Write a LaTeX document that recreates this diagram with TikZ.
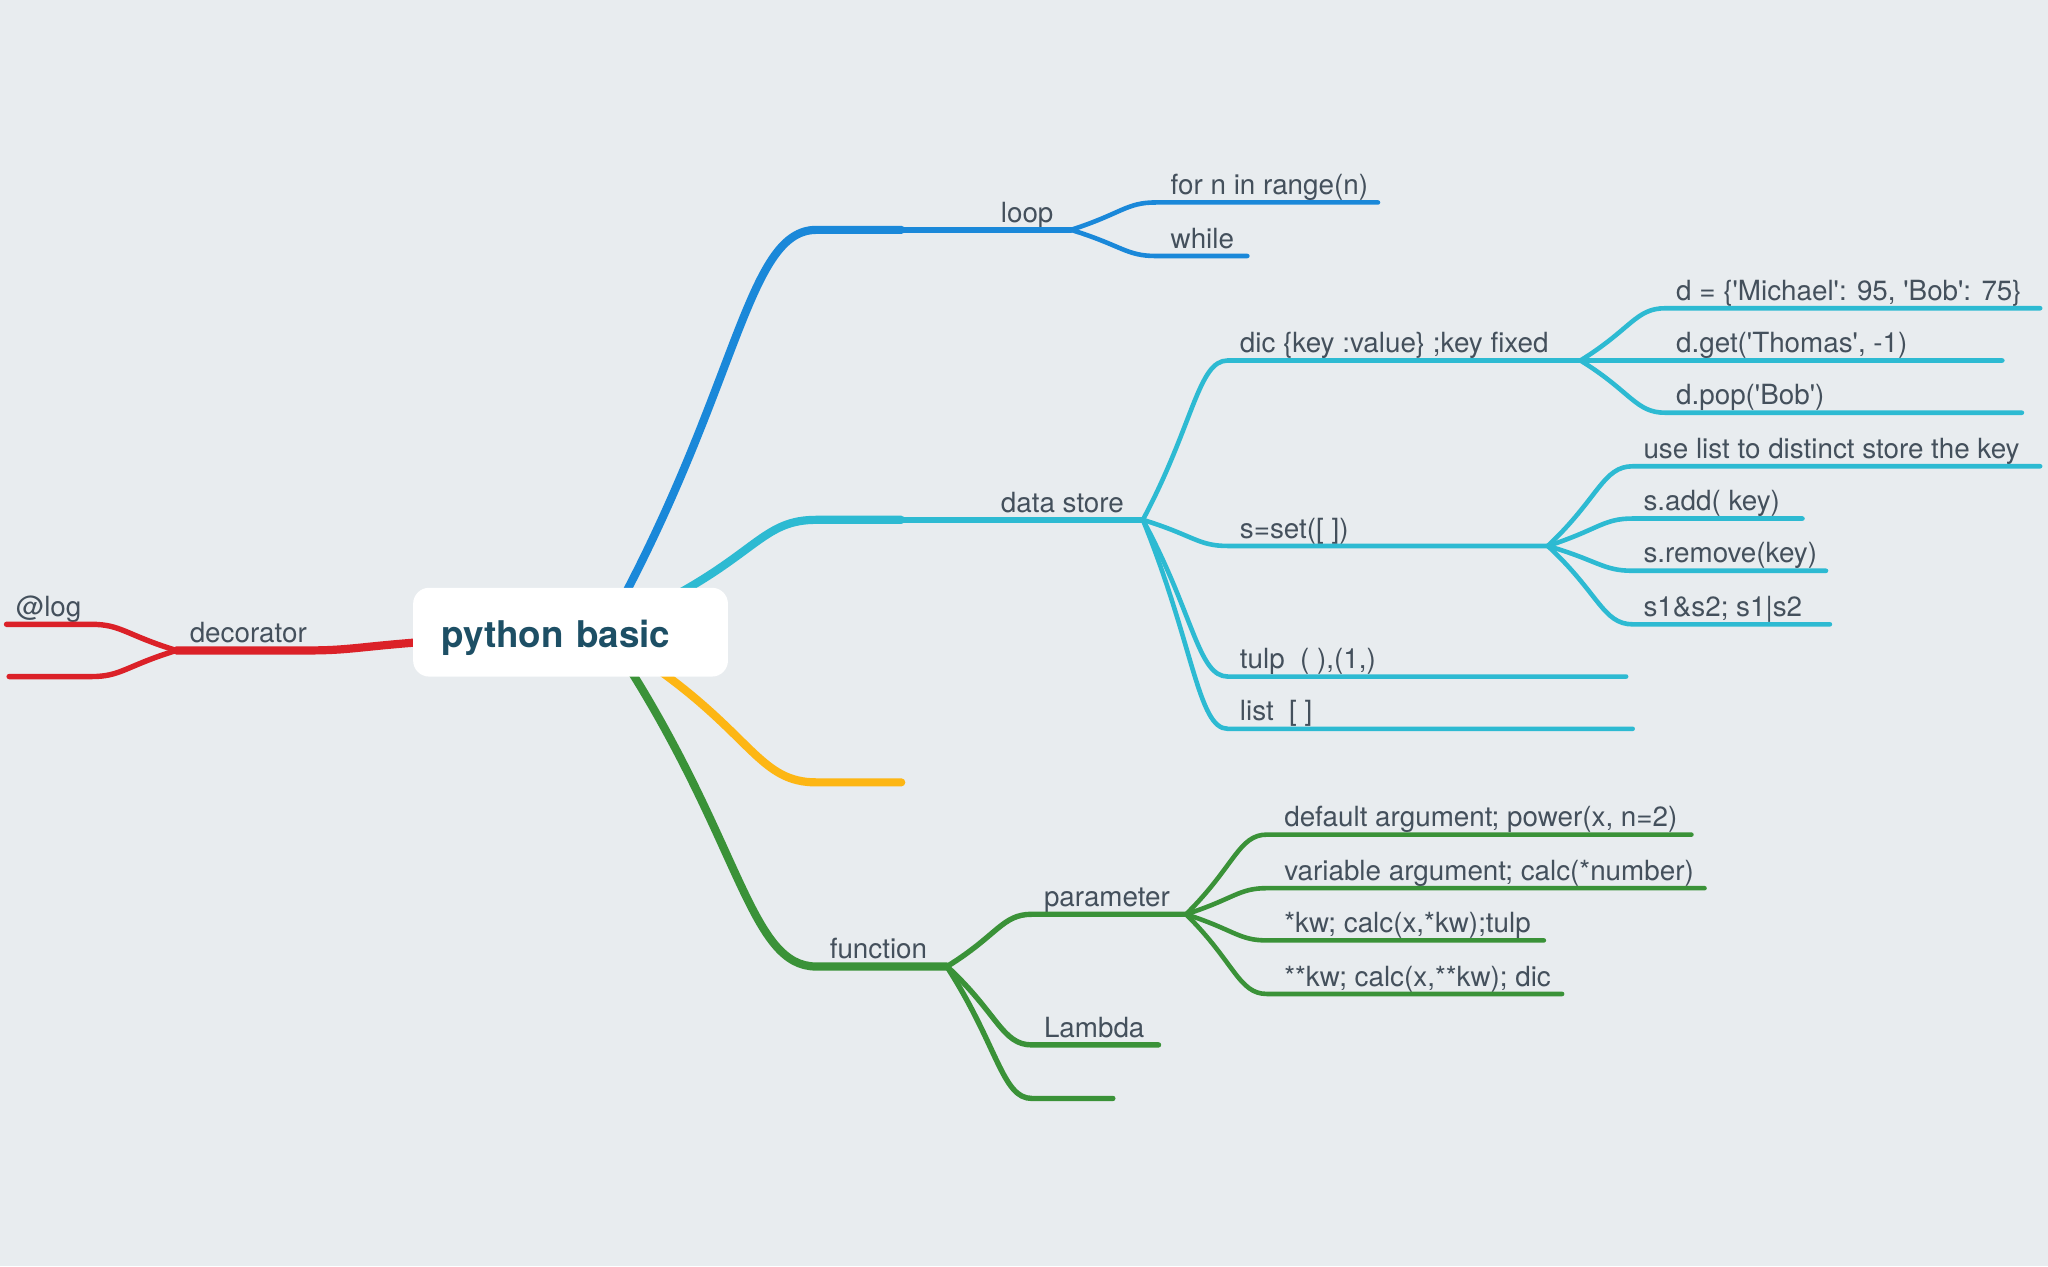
\documentclass[tikz,border=0pt]{standalone}
\usepackage{fontspec}
\setmainfont{TeX Gyre Heros}
\usetikzlibrary{calc}

\definecolor{bgc}{HTML}{E8ECEF}
\definecolor{txt}{HTML}{44505C}
\definecolor{ttl}{HTML}{1D4F65}
\definecolor{cblue}{HTML}{1A88D9}
\definecolor{ccyan}{HTML}{2DBAD2}
\definecolor{cyell}{HTML}{FDB614}
\definecolor{cgreen}{HTML}{3A9238}
\definecolor{cred}{HTML}{DB2128}

\newcommand{\apos}{\textquotesingle}

\begin{document}
\begin{tikzpicture}[x=0.653pt,y=-0.653pt,every text node part/.style={align=left},
    topic/.style={anchor=base west,inner sep=0pt,text=txt,font=\fontsize{13.9}{16}\selectfont},
    trunk/.style={line width=4.1pt,line cap=round},
    twig/.style={line width=2.7pt,line cap=round},
    leaf/.style={line width=2.3pt,line cap=round},
    branch/.style={to path={.. controls ($(\tikztostart)!0.6!(\tikztotarget)$) and ($(\tikztotarget)!0.35!(\tikztostart|-\tikztotarget)$) .. (\tikztotarget)}}]

    \fill[bgc] (0,0) rectangle (1568,969.4);
    \useasboundingbox (0,0) rectangle (1568,969.4);

    % --------------------------------------------------------- %
    % ------------- loop
    % --------------------------------------------------------- %
    \coordinate (r-loop) at (478,456);
    \coordinate (loop-s) at (625,176);
    \coordinate (loop-m) at (690,176);
    \coordinate (loop-e) at (820,176);
    \node[topic] (loop) at (766,170) {loop};
    \draw[trunk,cblue] (r-loop) to[branch] (loop-s) -- (loop-m);
    \draw[twig,cblue] (loop-m) -- (loop-e);

    \coordinate (for-s) at (885,155);
    \coordinate (for-e) at (1055,155);
    \node[topic] (for) at (896,149) {for n in range(n)};
    \draw[leaf,cblue] (loop-e) to[branch] (for-s) -- (for-e);

    \coordinate (while-s) at (885,196);
    \coordinate (while-e) at (955,196);
    \node[topic] (while) at (896,190) {while};
    \draw[leaf,cblue] (loop-e) to[branch] (while-s) -- (while-e);

    % --------------------------------------------------------- %
    % ------------- data store
    % --------------------------------------------------------- %
    \coordinate (r-ds) at (513,458);
    \coordinate (ds-s) at (625,398);
    \coordinate (ds-m) at (690,398);
    \coordinate (ds-e) at (875,398);
    \node[topic] (ds) at (766,392) {data store};
    \draw[trunk,ccyan] (r-ds) to[branch] (ds-s) -- (ds-m);
    \draw[twig,ccyan] (ds-m) -- (ds-e);

    % dic
    \coordinate (dic-s) at (940,276);
    \coordinate (dic-e) at (1210,276);
    \node[topic] (dic) at (949,270) {dic \{key :value\} ;key fixed};
    \draw[leaf,ccyan] (ds-e) to[branch] (dic-s) -- (dic-e);

    \coordinate (dnew-s) at (1275,236);
    \coordinate (dnew-e) at (1562,236);
    \node[topic] (dnew) at (1283,230) {d = \{\apos Michael\apos: 95, \apos Bob\apos: 75\}};
    \draw[leaf,ccyan] (dic-e) to[branch] (dnew-s) -- (dnew-e);

    \coordinate (dget-s) at (1275,276);
    \coordinate (dget-e) at (1533,276);
    \node[topic] (dget) at (1283,270) {d.get(\apos Thomas\apos, -1)};
    \draw[leaf,ccyan] (dic-e) to[branch] (dget-s) -- (dget-e);

    \coordinate (dpop-s) at (1275,316);
    \coordinate (dpop-e) at (1548,316);
    \node[topic] (dpop) at (1283,310) {d.pop(\apos Bob\apos)};
    \draw[leaf,ccyan] (dic-e) to[branch] (dpop-s) -- (dpop-e);

    % set
    \coordinate (set-s) at (940,418);
    \coordinate (set-e) at (1185,418);
    \node[topic] (set) at (949,412) {s=set([ ])};
    \draw[leaf,ccyan] (ds-e) to[branch] (set-s) -- (set-e);

    \coordinate (suse-s) at (1250,357);
    \coordinate (suse-e) at (1562,357);
    \node[topic] (suse) at (1258,351) {use list to distinct store the key};
    \draw[leaf,ccyan] (set-e) to[branch] (suse-s) -- (suse-e);

    \coordinate (sadd-s) at (1250,397);
    \coordinate (sadd-e) at (1380,397);
    \node[topic] (sadd) at (1258,391) {s.add( key)};
    \draw[leaf,ccyan] (set-e) to[branch] (sadd-s) -- (sadd-e);

    \coordinate (srem-s) at (1250,437);
    \coordinate (srem-e) at (1398,437);
    \node[topic] (srem) at (1258,431) {s.remove(key)};
    \draw[leaf,ccyan] (set-e) to[branch] (srem-s) -- (srem-e);

    \coordinate (sops-s) at (1250,478);
    \coordinate (sops-e) at (1401,478);
    \node[topic] (sops) at (1258,472) {s1\&s2; s1|s2};
    \draw[leaf,ccyan] (set-e) to[branch] (sops-s) -- (sops-e);

    % tulp, list
    \coordinate (tulp-s) at (940,518);
    \coordinate (tulp-e) at (1245,518);
    \node[topic] (tulp) at (949,512) {tulp\ \ ( ),(1,)};
    \draw[leaf,ccyan] (ds-e) to[branch] (tulp-s) -- (tulp-e);

    \coordinate (list-s) at (940,558);
    \coordinate (list-e) at (1250,558);
    \node[topic] (list) at (949,552) {list\ \ [ ]};
    \draw[leaf,ccyan] (ds-e) to[branch] (list-s) -- (list-e);

    % --------------------------------------------------------- %
    % ------------- empty (yellow)
    % --------------------------------------------------------- %
    \coordinate (r-yel) at (503,512);
    \coordinate (yel-s) at (625,599);
    \coordinate (yel-e) at (690,599);
    \draw[trunk,cyell] (r-yel) to[branch] (yel-s) -- (yel-e);

    % --------------------------------------------------------- %
    % ------------- function
    % --------------------------------------------------------- %
    \coordinate (r-fn) at (482,512);
    \coordinate (fn-s) at (625,740);
    \coordinate (fn-e) at (725,740);
    \node[topic] (fn) at (635,734) {function};
    \draw[trunk,cgreen] (r-fn) to[branch] (fn-s) -- (fn-e);

    \coordinate (par-s) at (790,700);
    \coordinate (par-e) at (908,700);
    \node[topic] (par) at (799,694) {parameter};
    \draw[twig,cgreen] (fn-e) to[branch] (par-s) -- (par-e);

    \coordinate (pdef-s) at (970,639);
    \coordinate (pdef-e) at (1295,639);
    \node[topic] (pdef) at (983,633) {default argument; power(x, n=2)};
    \draw[leaf,cgreen] (par-e) to[branch] (pdef-s) -- (pdef-e);

    \coordinate (pvar-s) at (970,680);
    \coordinate (pvar-e) at (1305,680);
    \node[topic] (pvar) at (983,674) {variable argument; calc(*number)};
    \draw[leaf,cgreen] (par-e) to[branch] (pvar-s) -- (pvar-e);

    \coordinate (pkw-s) at (970,720);
    \coordinate (pkw-e) at (1182,720);
    \node[topic] (pkw) at (983,714) {*kw; calc(x,*kw);tulp};
    \draw[leaf,cgreen] (par-e) to[branch] (pkw-s) -- (pkw-e);

    \coordinate (pkkw-s) at (970,761);
    \coordinate (pkkw-e) at (1196,761);
    \node[topic] (pkkw) at (983,755) {**kw; calc(x,**kw); dic};
    \draw[leaf,cgreen] (par-e) to[branch] (pkkw-s) -- (pkkw-e);

    \coordinate (lam-s) at (790,800);
    \coordinate (lam-e) at (887,800);
    \node[topic] (lam) at (799,794) {Lambda};
    \draw[twig,cgreen] (fn-e) to[branch] (lam-s) -- (lam-e);

    \coordinate (fnx-s) at (790,841);
    \coordinate (fnx-e) at (852,841);
    \draw[twig,cgreen] (fn-e) to[branch] (fnx-s) -- (fnx-e);

    % --------------------------------------------------------- %
    % ------------- decorator
    % --------------------------------------------------------- %
    \coordinate (r-dec) at (330,491);
    \coordinate (dec-m) at (235,498);
    \coordinate (dec-e) at (135,498);
    \node[topic] (dec) at (145,492) {decorator};
    \draw[trunk,cred] (r-dec) to[branch] (dec-m) -- (dec-e);

    \coordinate (log-s) at (70,478);
    \coordinate (log-e) at (5,478);
    \node[topic] (log) at (12,472) {@log};
    \draw[twig,cred] (dec-e) to[branch] (log-s) -- (log-e);

    \coordinate (decx-s) at (70,518);
    \coordinate (decx-e) at (7,518);
    \draw[twig,cred] (dec-e) to[branch] (decx-s) -- (decx-e);

    % --------------------------------------------------------- %
    % ------------- principal node
    % --------------------------------------------------------- %
    \node[fill=white,rounded corners=8pt,anchor=west,text width=128.6pt,inner xsep=14.4pt,
      minimum height=44.4pt,text height=15.5pt,text depth=0pt,text=ttl,
      font=\fontsize{18.4}{22}\selectfont\bfseries] (root) at (316,484) {python basic};

  \end{tikzpicture}
\end{document}
